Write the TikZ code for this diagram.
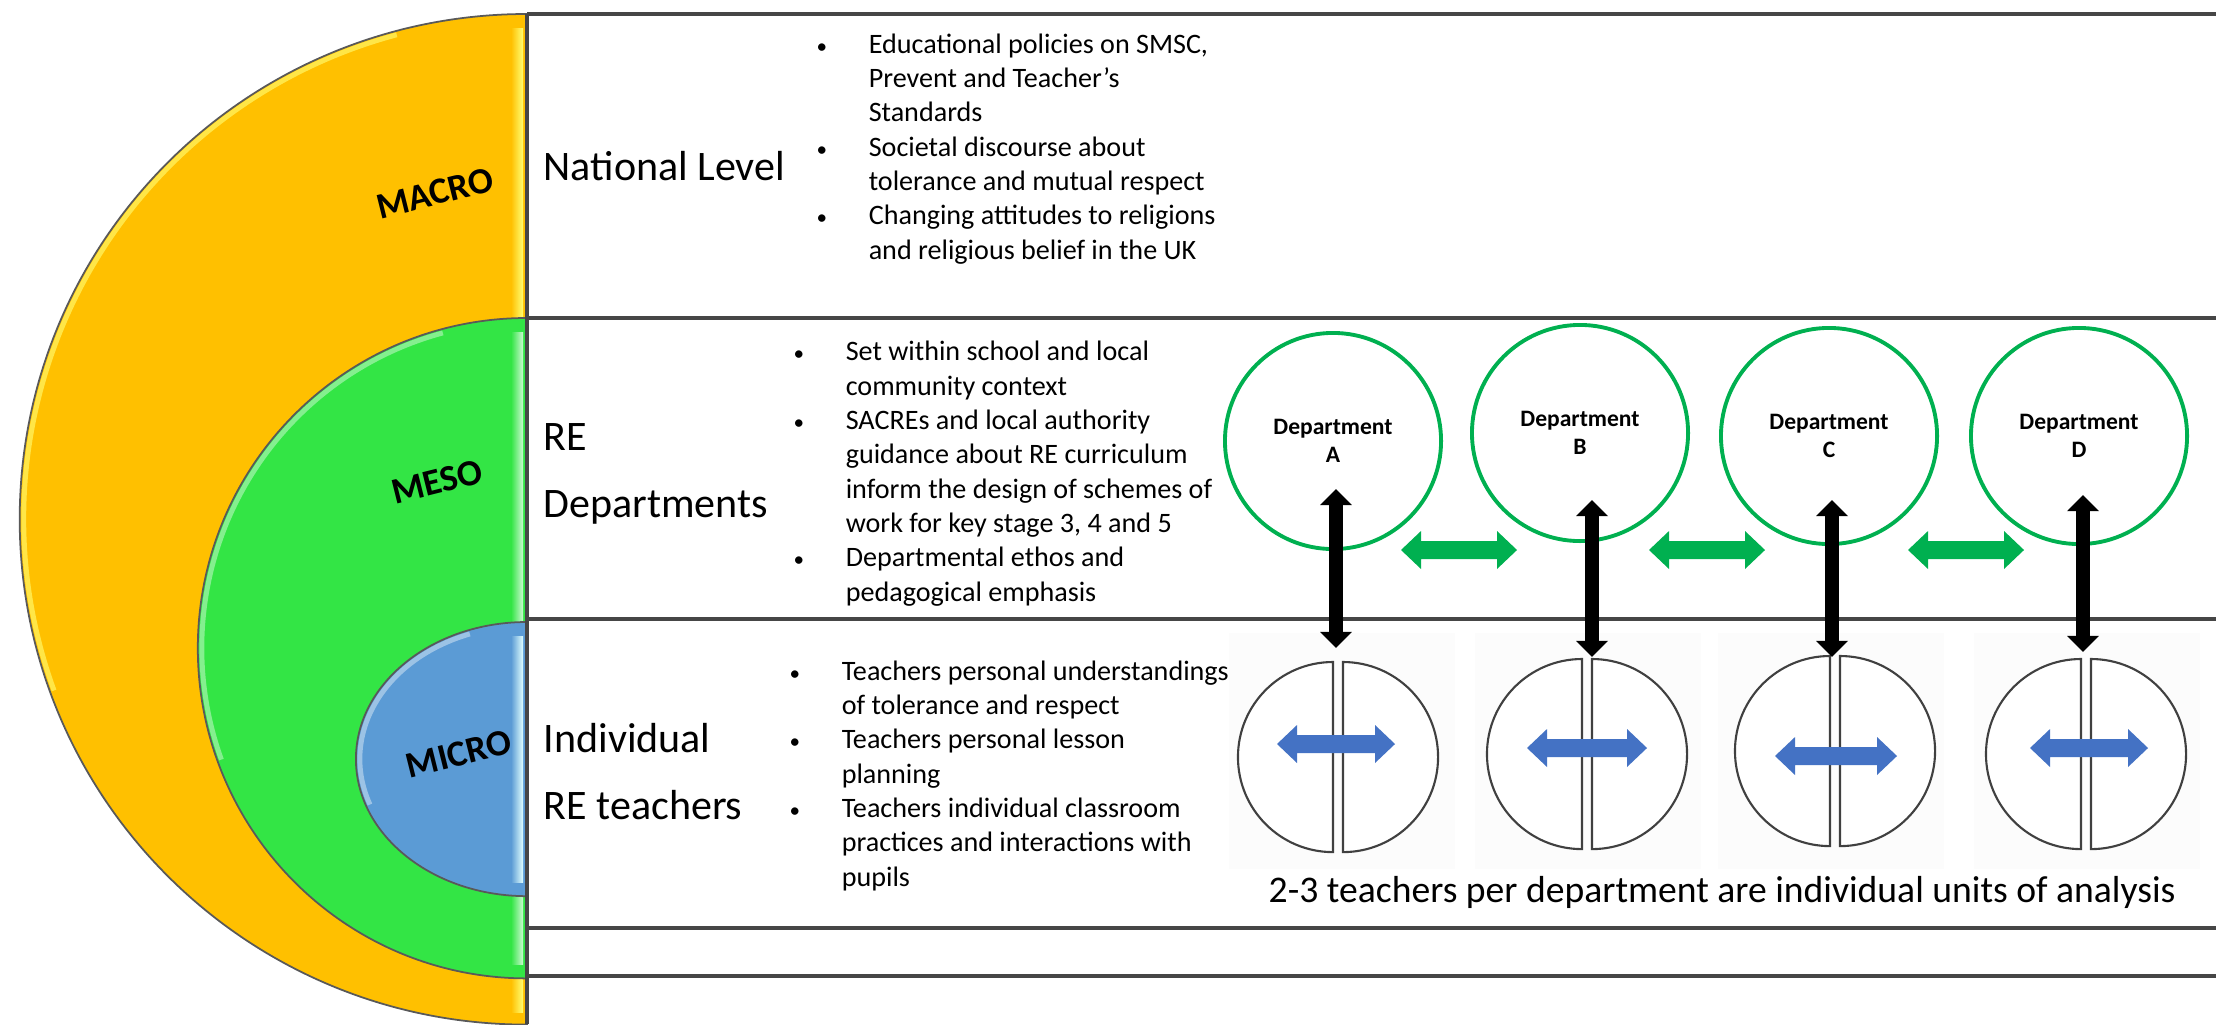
\documentclass[tikz,border=0pt]{standalone}
\usepackage{fontspec}
\setmainfont{Carlito}
\usetikzlibrary{arrows.meta}

\definecolor{macrogold}{RGB}{255,192,0}
\definecolor{mesogreen}{RGB}{51,229,69}
\definecolor{microblue}{RGB}{91,155,213}
\definecolor{deptgreen}{RGB}{0,176,80}
\definecolor{linkblue}{RGB}{68,114,196}
\definecolor{rulegray}{RGB}{70,70,70}

\newcommand{\bul}{\makebox[14.8pt][l]{\scalebox{0.75}{\textbullet}}}
\newcommand{\cont}{\hspace*{14.8pt}}
% block arrow with two heads: centre x, centre y, half length, colour
\newcommand{\twohead}[4]{%
  \fill[#4] (#1,#2) ++(-#3,0) -- ++(20,-19) -- ++(0,10) -- ++(2*#3-40,0)
    -- ++(0,-10) -- ++(20,19) -- ++(-20,19) -- ++(0,-10) -- ++(-2*#3+40,0)
    -- ++(0,10) -- cycle;}

\begin{document}
\begin{tikzpicture}[x=0.01cm,y=-0.01cm,
    rowline/.style={line width=0.9pt,draw=rulegray},
    level/.style={line width=0.5pt,draw=black!65},
    gloss/.style={line width=1.4pt,draw=white,opacity=0.4},
    tag/.style={inner sep=0pt,rotate=14,font=\fontsize{10.5}{12}\selectfont\bfseries},
    rowname/.style={anchor=base west,inner sep=0pt,align=left,font=\fontsize{11.95}{19}\selectfont},
    points/.style={anchor=base west,inner sep=0pt,align=left,font=\fontsize{8}{9.76}\selectfont},
    dept/.style={circle,draw=deptgreen,line width=1.1pt,minimum size=2.16cm,inner sep=0pt,
      align=center,font=\fontsize{6.7}{8}\selectfont\bfseries},
    half/.style={draw=black!75,line width=0.6pt,fill=white},
    updown/.style={line width=4pt,<->,>={Triangle[width=8.8pt,length=4.6pt]}}]

  \useasboundingbox (0,0) rectangle (2216,1024);

  % nested levels
  \draw[level,fill=macrogold] (527,14) arc[start angle=90,end angle=270,x radius=5.07cm,y radius=5.05cm] -- cycle;
  \shade[left color=macrogold,right color=yellow!55!white] (511,28) rectangle (523,1012);
  \draw[gloss,draw=yellow!60!white,opacity=0.7] (527,519) ++(105:5.03cm and 5.01cm)
    arc[start angle=105,end angle=200,x radius=5.03cm,y radius=5.01cm];

  \draw[level,fill=mesogreen] (527,318) arc[start angle=90,end angle=270,x radius=3.29cm,y radius=3.30cm] -- cycle;
  \shade[left color=mesogreen,right color=mesogreen!25!white] (511,332) rectangle (523,964);
  \draw[gloss] (527,648) ++(105:3.25cm and 3.26cm)
    arc[start angle=105,end angle=200,x radius=3.25cm,y radius=3.26cm];

  \draw[level,fill=microblue] (527,622) arc[start angle=90,end angle=270,x radius=1.71cm,y radius=1.37cm] -- cycle;
  \shade[left color=microblue,right color=cyan!12!white] (511,636) rectangle (523,882);
  \draw[gloss] (527,759) ++(110:1.67cm and 1.33cm)
    arc[start angle=110,end angle=200,x radius=1.67cm,y radius=1.33cm];

  \node[tag] (macro) at (435,193) {MACRO};
  \node[tag] (meso) at (437,482) {MESO};
  \node[tag] (micro) at (459,754) {MICRO};

  % table rows
  \draw[rowline] (527,14) -- (527,1024);
  \foreach \y in {14,318,619,928,976}
    \draw[rowline] (527,\y) -- (2216,\y);

  \node[rowname] (national) at (543,180) {National Level};
  \node[rowname] (redept) at (543,517) {RE\\Departments};
  \node[rowname] (reteach) at (543,819) {Individual\\RE teachers};

  \node[points] (nationalpts) at (816,259) {\bul Educational policies on SMSC,\\\cont Prevent and Teacher’s\\\cont Standards\\\bul Societal discourse about\\\cont tolerance and mutual respect\\\bul Changing attitudes to religions\\\cont and religious belief in the UK};
  \node[points] (deptpts) at (793,601) {\bul Set within school and local\\\cont community context\\\bul SACREs and local authority\\\cont guidance about RE curriculum\\\cont inform the design of schemes of\\\cont work for key stage 3, 4 and 5\\\bul Departmental ethos and\\\cont pedagogical emphasis};
  \node[points] (teachpts) at (789,886) {\bul Teachers personal understandings\\\cont of tolerance and respect\\\bul Teachers personal lesson\\\cont planning\\\bul Teachers individual classroom\\\cont practices and interactions with\\\cont pupils};

  % departments and their teachers
  \foreach \x in {1229,1475,1718,1974}
    \fill[black!1] (\x,633) rectangle ++(226,236);

  \node[dept] (dA) at (1333,441) {Department\\A};
  \node[dept] (dB) at (1580,433) {Department\\B};
  \node[dept] (dC) at (1829,436) {Department\\C};
  \node[dept] (dD) at (2079,436) {Department\\D};

  \coordinate (tA) at (1338,757);
  \coordinate (tB) at (1587,754);
  \coordinate (tC) at (1835,751);
  \coordinate (tD) at (2086,754);

  \foreach \who in {tA,tB,tC,tD}{
    \draw[half] (\who) ++(-5,-95) arc[start angle=90,end angle=270,radius=0.95cm] -- cycle;
    \draw[half] (\who) ++(5,-95) arc[start angle=90,end angle=-90,radius=0.95cm] -- cycle;
  }

  \twohead{1336}{744}{59}{linkblue}
  \twohead{1587}{748}{60}{linkblue}
  \twohead{1836}{756}{61}{linkblue}
  \twohead{2089}{748}{59}{linkblue}

  \twohead{1459}{550}{58}{deptgreen}
  \twohead{1707}{550}{58}{deptgreen}
  \twohead{1966}{550}{58}{deptgreen}

  \foreach \lbl/\x/\a/\b in {A/1336/489/648,B/1592/500/657,C/1832/500/657,D/2083/495/652}{
    \coordinate (u\lbl) at (\x,\a);
    \coordinate (l\lbl) at (\x,\b);
    \draw[updown] (u\lbl) -- (l\lbl);
  }

  \node[anchor=base west,inner sep=0pt,font=\fontsize{10.7}{12}\selectfont] (units) at (1268,902)
    {2-3 teachers per department are individual units of analysis};
\end{tikzpicture}
\end{document}
